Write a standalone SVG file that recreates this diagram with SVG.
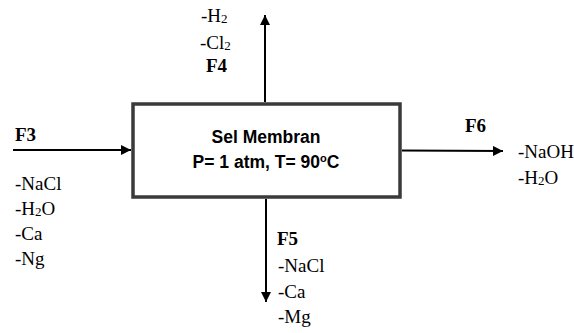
<svg xmlns="http://www.w3.org/2000/svg" width="574" height="333" viewBox="0 0 574 333">
<defs>
<marker id="ah" viewBox="0 0 10 10" refX="10" refY="5" markerWidth="10" markerHeight="10" markerUnits="userSpaceOnUse" orient="auto">
<path d="M0,0 L10,5 L0,10 Z" fill="#000"/>
</marker>
</defs>
<style>
.lbl{font-family:"Liberation Serif","Times New Roman",serif;font-size:19px;fill:#000}
.f{font-family:"Liberation Serif","Times New Roman",serif;font-size:19px;font-weight:bold;fill:#000}
.sub{font-size:13px}
.box{fill:#fff;stroke:#3a3a3a;stroke-width:3.5}
.in{font-family:"Liberation Sans",Arial,sans-serif;font-size:17.5px;font-weight:bold;fill:#000;text-anchor:middle}
.ln{stroke:#000;stroke-width:2;fill:none}
</style>
<rect width="574" height="333" fill="#fff"/>
<g id="connectors">
<line class="ln" x1="13" y1="150" x2="131" y2="150" marker-end="url(#ah)"/>
<line class="ln" x1="265" y1="102" x2="265" y2="15" marker-end="url(#ah)"/>
<line class="ln" x1="402" y1="150.5" x2="503" y2="151" marker-end="url(#ah)"/>
<line class="ln" x1="266" y1="199" x2="266" y2="302" marker-end="url(#ah)"/>
</g>
<g id="sel-membran">
<rect class="box" x="133" y="104" width="267" height="93"/>
<text class="in" x="266" y="143">Sel Membran</text>
<text class="in" x="266" y="168">P= 1 atm, T= 90<tspan font-size="11px" dy="-6">o</tspan><tspan dy="6">C</tspan></text>
</g>
<g id="F3">
<text class="f" x="15" y="141">F3</text>
<text class="lbl" x="15" y="190">-NaCl</text>
<text class="lbl" x="15" y="215">-H<tspan class="sub" dy="1">2</tspan><tspan dy="-1">O</tspan></text>
<text class="lbl" x="15" y="240">-Ca</text>
<text class="lbl" x="15" y="265">-Ng</text>
</g>
<g id="F4">
<text class="lbl" x="201" y="22">-H<tspan class="sub" dy="1">2</tspan></text>
<text class="lbl" x="200" y="49">-Cl<tspan class="sub" dy="1">2</tspan></text>
<text class="f" x="206" y="72">F4</text>
</g>
<g id="F5">
<text class="f" x="277" y="245">F5</text>
<text class="lbl" x="278" y="272">-NaCl</text>
<text class="lbl" x="278" y="298">-Ca</text>
<text class="lbl" x="278" y="323">-Mg</text>
</g>
<g id="F6">
<text class="f" x="465" y="132">F6</text>
<text class="lbl" x="518" y="158">-NaOH</text>
<text class="lbl" x="518" y="184">-H<tspan class="sub" dy="1">2</tspan><tspan dy="-1">O</tspan></text>
</g>
</svg>
